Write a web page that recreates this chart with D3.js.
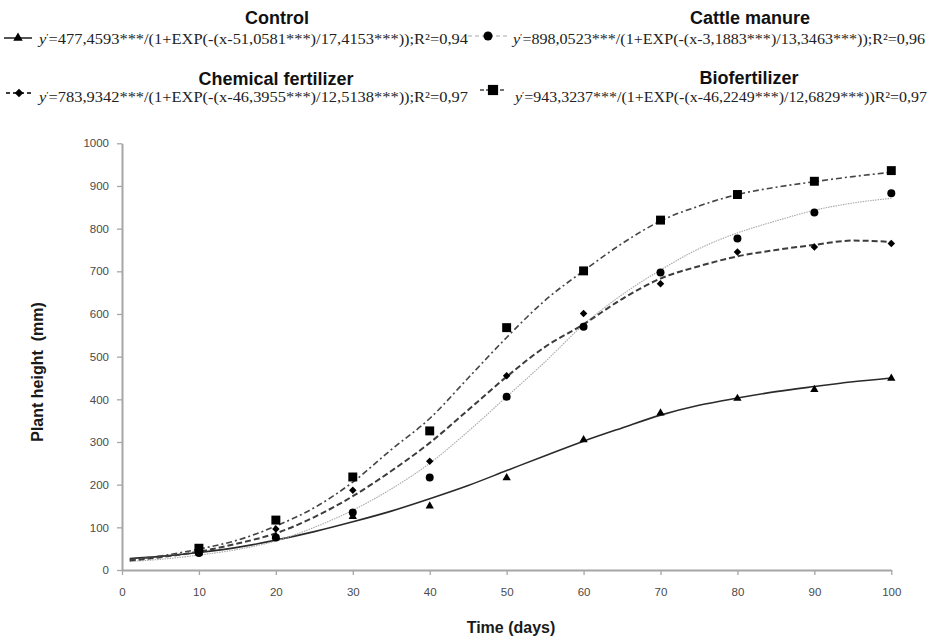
<!DOCTYPE html>
<html>
<head>
<meta charset="utf-8">
<script src="https://cdn.jsdelivr.net/npm/d3@7"></script>
<style>
  html, body { margin: 0; padding: 0; background: #fff; }
  svg { display: block; }
</style>
</head>
<body>
<div id="chart"></div>
<script>
// observed plant height (mm) per sampling day
const days = [10, 20, 30, 40, 50, 60, 70, 80, 90, 100];
const controlObs = [40, 78, 125, 150, 216, 305, 368, 402, 423, 449];
const cattleObs  = [40, 76, 135, 217, 406, 570, 697, 777, 838, 883];
const chemObs    = [44, 96, 187, 255, 455, 601, 671, 745, 757, 765];
const bioObs     = [51, 117, 218, 326, 568, 701, 820, 880, 911, 936];

// fitted curves
const fitDays    = [1, 5, 10, 15, 20, 25, 30, 35, 40, 45, 50, 55, 60, 65, 70, 75, 80, 85, 90, 95, 100];
const controlFit = [27, 32, 41, 53, 70, 90, 113, 138, 167, 198, 233, 268, 302, 333, 363, 386, 403, 418, 430, 441, 450];
const cattleFit  = [20, 25, 35, 48, 68, 100, 140, 190, 250, 325, 406, 488, 575, 645, 703, 753, 790, 818, 843, 860, 871];
const chemFit    = [22, 30, 43, 62, 86, 124, 173, 232, 298, 375, 453, 523, 576, 635, 683, 712, 735, 750, 762, 772, 769];
const bioFit     = [24, 33, 49, 70, 103, 146, 206, 282, 355, 450, 545, 632, 701, 765, 818, 853, 880, 897, 910, 922, 932];

const xTickVals = [0, 10, 20, 30, 40, 50, 60, 70, 80, 90, 100];
const yTickVals = [0, 100, 200, 300, 400, 500, 600, 700, 800, 900, 1000];

const seriesNames = ["Control", "Cattle manure", "Chemical fertilizer", "Biofertilizer"];
const equations = [
  "=477,4593***/(1+EXP(-(x-51,0581***)/17,4153***));R²=0,94",
  "=898,0523***/(1+EXP(-(x-3,1883***)/13,3463***));R²=0,96",
  "=783,9342***/(1+EXP(-(x-46,3955***)/12,5138***));R²=0,97",
  "=943,3237***/(1+EXP(-(x-46,2249***)/12,6829***))R²=0,97"
];

const w = 928, h = 639;

let series = [
  { name: seriesNames[0], obs: controlObs, fit: controlFit, shape: d3.symbolTriangle, size: 30, rot: 0,
    stroke: "#2a2a2a", width: 1.6, dash: null },
  { name: seriesNames[1], obs: cattleObs, fit: cattleFit, shape: d3.symbolCircle, size: 50, rot: 0,
    stroke: "#a8a8a8", width: 1.1, dash: "1.5,1" },
  { name: seriesNames[2], obs: chemObs, fit: chemFit, shape: d3.symbolSquare, size: 28, rot: 45,
    stroke: "#3c3c3c", width: 2, dash: "6,3" },
  { name: seriesNames[3], obs: bioObs, fit: bioFit, shape: d3.symbolSquare, size: 80, rot: 0,
    stroke: "#454545", width: 1.6, dash: "6,3,2,3" }
];

let svg = d3.select("#chart").append("svg")
  .attr("width", w)
  .attr("height", h);

let x = d3.scaleLinear().domain([0, 100]).range([122, 891.3]);
let y = d3.scaleLinear().domain([0, 1000]).range([570, 143.3]);

//axes
let xAxis = svg.append("g")
  .attr("transform", `translate(0,${y(0)})`)
  .call(d3.axisBottom(x).tickValues(xTickVals).tickSize(5).tickSizeOuter(0));
let yAxis = svg.append("g")
  .attr("transform", `translate(${x(0)},0)`)
  .call(d3.axisLeft(y).tickValues(yTickVals).tickFormat(d3.format("d")).tickSize(5).tickSizeOuter(0));

[xAxis, yAxis].forEach(a => {
  a.select(".domain").attr("stroke", "#a6a6a6").attr("stroke-width", 2);
  a.selectAll(".tick line").attr("stroke", "#a6a6a6").attr("stroke-width", 1.3);
  a.selectAll(".tick text")
    .attr("fill", "#4a4a4a")
    .style("font-family", "'Liberation Sans', Arial, sans-serif")
    .style("font-size", "11.5px");
});
xAxis.selectAll(".tick text").attr("y", 18);
yAxis.selectAll(".tick text").attr("x", -13);

//axis titles
svg.append("text")
  .attr("x", 511).attr("y", 633)
  .attr("text-anchor", "middle")
  .style("font-family", "'Liberation Sans', Arial, sans-serif")
  .style("font-weight", "bold")
  .style("font-size", "16px")
  .attr("fill", "#1a1a1a")
  .text("Time (days)");

svg.append("text")
  .attr("transform", "translate(43,372) rotate(-90)")
  .attr("text-anchor", "middle")
  .style("font-family", "'Liberation Sans', Arial, sans-serif")
  .style("font-weight", "bold")
  .style("font-size", "16px")
  .attr("fill", "#1a1a1a")
  .attr("xml:space", "preserve")
  .text("Plant height  (mm)");

//fitted curves
let line = d3.line()
  .x((d, i) => x(fitDays[i]))
  .y(d => y(d))
  .curve(d3.curveMonotoneX);

let gLines = svg.append("g");
series.forEach(s => {
  gLines.append("path")
    .datum(s.fit)
    .attr("d", line)
    .attr("fill", "none")
    .attr("stroke", s.stroke)
    .attr("stroke-width", s.width)
    .attr("stroke-dasharray", s.dash);
});

//observed markers
series.forEach(s => {
  svg.append("g").selectAll("path")
    .data(s.obs)
    .join("path")
    .attr("transform", (d, i) => `translate(${x(days[i])},${y(d)}) rotate(${s.rot})`)
    .attr("d", d3.symbol().type(s.shape).size(s.size))
    .attr("fill", "#000");
});

//legend
let legendPos = [
  { tx: 277, ty: 24, lx1: 4, lx2: 32, ly: 38, ex: 39, ey: 44, el: 429 },
  { tx: 750, ty: 24, lx1: 468, lx2: 508, ly: 36, ex: 513, ey: 44, el: 412 },
  { tx: 276, ty: 85, lx1: 6, lx2: 32, ly: 93, ex: 39, ey: 102, el: 429 },
  { tx: 749, ty: 84, lx1: 480, lx2: 506, ly: 90, ex: 515, ey: 102, el: 412 }
];

series.forEach((s, i) => {
  let p = legendPos[i];
  let g = svg.append("g");
  g.append("text")
    .attr("x", p.tx).attr("y", p.ty)
    .attr("text-anchor", "middle")
    .style("font-family", "'Liberation Sans', Arial, sans-serif")
    .style("font-weight", "bold")
    .style("font-size", "18px")
    .attr("fill", "#111")
    .text(s.name);
  g.append("line")
    .attr("x1", p.lx1).attr("x2", p.lx2)
    .attr("y1", p.ly).attr("y2", p.ly)
    .attr("stroke", s.stroke)
    .attr("stroke-width", s.width)
    .attr("stroke-dasharray", s.dash ? (i == 3 ? "4,2,2,2" : "4,3") : null);
  g.append("path")
    .attr("transform", `translate(${(p.lx1 + p.lx2) / 2},${p.ly}) rotate(${s.rot})`)
    .attr("d", d3.symbol().type(s.shape).size(s.size * 1.3))
    .attr("fill", "#000");
  let t = g.append("text")
    .attr("x", p.ex).attr("y", p.ey)
    .attr("textLength", p.el)
    .attr("lengthAdjust", "spacingAndGlyphs")
    .style("font-family", "'Liberation Serif', 'Times New Roman', serif")
    .style("font-size", "14px")
    .attr("fill", "#222");
  t.append("tspan").style("font-style", "italic").text("y");
  t.append("tspan").attr("dy", -4).style("font-size", "9px").text("ʹ");
  t.append("tspan").attr("dy", 4).text(equations[i]);
});
</script>
</body>
</html>
